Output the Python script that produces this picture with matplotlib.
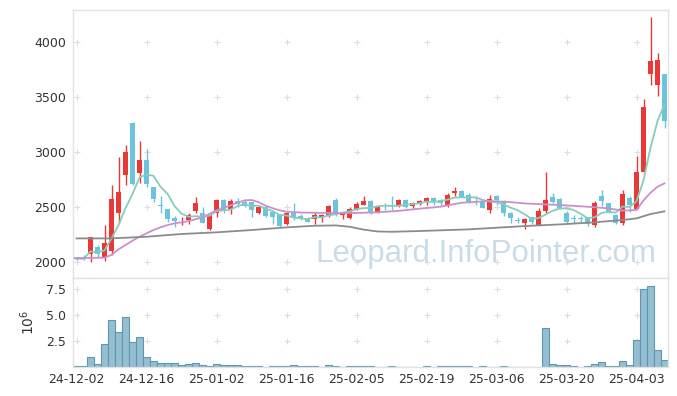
import numpy as np
import pandas as pd
import matplotlib
matplotlib.use("Agg")
from matplotlib import pyplot as plt

# Korean trading days shown on the chart
holidays = ["2024-12-25", "2024-12-31", "2025-01-01", "2025-01-27", "2025-01-28",
            "2025-01-29", "2025-01-30", "2025-03-03"]
dates = [d for d in pd.bdate_range("2024-12-02", "2025-04-09") if d.strftime("%Y-%m-%d") not in holidays]
date_labels = [d.strftime("%y-%m-%d") for d in dates]

opens = [2045, 2045, 2070, 2139, 2048, 2103, 2448, 2791, 3267, 2812,
         2927, 2679, 2515, 2482, 2400, 2358, 2382, 2464, 2442, 2300,
         2448, 2564, 2479, 2555, 2543, 2543, 2448, 2497, 2458, 2436,
         2342, 2448, 2418, 2403, 2391, 2403, 2421, 2564, 2424, 2403,
         2479, 2518, 2555, 2458, 2518, 2521, 2512, 2564, 2509, 2527,
         2555, 2585, 2564, 2518, 2630, 2648, 2609, 2548, 2555, 2473,
         2600, 2555, 2448, 2382, 2358, 2406, 2336, 2464, 2594, 2573,
         2448, 2400, 2398, 2397, 2336, 2600, 2533, 2427, 2352, 2579,
         2482, 2821, 3706, 3609, 3709]
highs = [2050, 2060, 2227, 2155, 2333, 2700, 2955, 3064, 3270, 3100,
         3027, 2680, 2600, 2485, 2418, 2406, 2448, 2588, 2503, 2430,
         2570, 2570, 2570, 2580, 2570, 2550, 2510, 2500, 2460, 2440,
         2455, 2533, 2440, 2410, 2455, 2440, 2520, 2580, 2455, 2500,
         2545, 2600, 2560, 2515, 2540, 2600, 2570, 2570, 2545, 2560,
         2590, 2590, 2570, 2630, 2679, 2655, 2630, 2600, 2560, 2609,
         2610, 2560, 2455, 2410, 2397, 2410, 2494, 2821, 2624, 2580,
         2460, 2430, 2420, 2405, 2555, 2655, 2540, 2440, 2655, 2600,
         2967, 3479, 4230, 3903, 3709]
lows = [2020, 2020, 2003, 2050, 2012, 2061, 2352, 2697, 2700, 2721,
        2685, 2548, 2448, 2367, 2315, 2336, 2342, 2442, 2355, 2295,
        2410, 2442, 2436, 2500, 2500, 2412, 2440, 2410, 2345, 2320,
        2335, 2382, 2380, 2360, 2345, 2360, 2410, 2420, 2390, 2395,
        2470, 2518, 2440, 2450, 2473, 2470, 2500, 2490, 2490, 2515,
        2515, 2515, 2510, 2500, 2600, 2590, 2540, 2520, 2490, 2448,
        2520, 2420, 2352, 2352, 2297, 2350, 2336, 2442, 2533, 2480,
        2350, 2355, 2360, 2327, 2315, 2509, 2450, 2345, 2336, 2458,
        2482, 2821, 3609, 3509, 3215]
closes = [2030, 2030, 2227, 2070, 2170, 2573, 2636, 3000, 2709, 2927,
          2709, 2570, 2506, 2391, 2370, 2364, 2427, 2533, 2358, 2427,
          2564, 2473, 2555, 2524, 2512, 2473, 2503, 2421, 2412, 2330,
          2448, 2412, 2391, 2367, 2427, 2427, 2509, 2442, 2442, 2482,
          2527, 2555, 2458, 2509, 2512, 2515, 2564, 2503, 2539, 2555,
          2585, 2549, 2539, 2609, 2648, 2594, 2548, 2542, 2494, 2573,
          2564, 2442, 2403, 2376, 2388, 2364, 2464, 2564, 2549, 2494,
          2367, 2395, 2393, 2345, 2533, 2557, 2458, 2352, 2618, 2518,
          2815, 3412, 3827, 3836, 3285]
# volume in millions of shares
volumes = [0.06, 0.06, 0.96, 0.29, 2.18, 4.49, 3.33, 4.78, 2.37, 2.85,
           0.96, 0.58, 0.35, 0.35, 0.35, 0.19, 0.29, 0.35, 0.16, 0.06,
           0.26, 0.19, 0.19, 0.19, 0.08, 0.06, 0.06, 0.0, 0.06, 0.06,
           0.06, 0.16, 0.06, 0.06, 0.06, 0.0, 0.16, 0.06, 0.0, 0.06,
           0.06, 0.06, 0.06, 0.0, 0.03, 0.06, 0.0, 0.0, 0.0, 0.0,
           0.06, 0.0, 0.06, 0.06, 0.06, 0.06, 0.06, 0.0, 0.06, 0.0,
           0.0, 0.06, 0.0, 0.0, 0.0, 0.0, 0.0, 3.72, 0.26, 0.16,
           0.16, 0.06, 0.0, 0.06, 0.26, 0.45, 0.06, 0.06, 0.55, 0.19,
           2.56, 7.55, 7.78, 1.60, 0.67]

# longer moving averages (index, value)
ma20_idx = [0, 4, 5, 6, 7, 8, 9, 10, 11, 12, 13, 14, 16, 18, 20, 21, 23, 24, 25, 26, 27,
            28, 29, 30, 32, 36, 40, 43, 46, 49, 52, 55, 59, 62, 64, 69, 73, 76, 78, 80,
            81, 82, 83, 84]
ma20_val = [2035, 2040, 2065, 2115, 2155, 2194, 2230, 2261, 2291, 2315, 2336, 2352, 2372,
            2406, 2470, 2490, 2540, 2560, 2564, 2545, 2512, 2490, 2470, 2458, 2450, 2446,
            2446, 2452, 2465, 2485, 2503, 2539, 2555, 2545, 2533, 2518, 2503, 2488, 2467,
            2473, 2560, 2630, 2685, 2715]
ma60_idx = [0, 5, 10, 15, 20, 25, 30, 34, 37, 39, 41, 43, 45, 49, 56, 60, 64, 69, 74, 78,
            80, 82, 84]
ma60_val = [2215, 2215, 2230, 2255, 2270, 2291, 2315, 2330, 2333, 2321, 2295, 2278, 2275,
            2282, 2297, 2312, 2327, 2342, 2361, 2382, 2397, 2436, 2461]

x = np.arange(len(closes))
o = np.array(opens); c = np.array(closes); h = np.array(highs); l = np.array(lows)
up = c >= o
colors = np.where(up, "#ec3737", "#6cc4dc")
ma5 = pd.Series(closes).rolling(5, min_periods=1).mean()

fig = plt.figure(figsize=(6.77, 3.96), dpi=100)
ax = fig.add_axes([73 / 677, 1 - 278 / 396, 595 / 677, 268 / 396])
ax2 = fig.add_axes([73 / 677, 1 - 367 / 396, 595 / 677, 89 / 396], sharex=ax)

tick_pos = list(range(0, len(x), 10))

# grid crosses
for a, yt in ((ax, [2000, 2500, 3000, 3500, 4000]), (ax2, [2.5, 5.0, 7.5])):
    gx, gy = np.meshgrid(tick_pos, yt)
    a.scatter(gx.ravel(), gy.ravel(), marker="+", s=18, color="#dddddd", lw=0.8, zorder=0)

ax.text(0.981, 0.06, "Leopard.InfoPointer.com", transform=ax.transAxes, ha="right",
        va="baseline", fontsize=22.5, family="Liberation Sans", color="#cadce7", zorder=0)

ax.vlines(x, l, h, colors=colors, lw=1.0, zorder=2)
body = np.maximum(np.abs(c - o), 6)
ax.bar(x, body, bottom=np.minimum(o, c), width=0.62, color=colors, lw=0, zorder=3)

ax.plot(x, ma5, color="#86cdbb", lw=1.3, zorder=4)
ax.plot(ma20_idx, ma20_val, color="#cc8fcc", lw=1.3, zorder=4)
ax.plot(ma60_idx, ma60_val, color="#8c8c8c", lw=1.3, zorder=4)

ax.set_ylim(1855, 4291)
ax.set_xlim(-0.5, len(x) - 0.5)
ax.set_yticks([2000, 2500, 3000, 3500, 4000])

ax2.bar(x, volumes, width=1.0, color="#95bfd1", edgecolor="#5d97b2", lw=0.8, zorder=2)
ax2.set_ylim(0, 8.56)
ax2.set_yticks([2.5, 5.0, 7.5])
ax2.set_yticklabels(["2.5", "5.0", "7.5"])
ax2.set_xticks(tick_pos)
ax2.set_xticklabels([date_labels[i] for i in tick_pos])
ax2.set_ylabel("$10^6$", fontsize=10, color="#333333")
ax2.yaxis.set_label_coords(-0.061, 0.5)

for a in (ax, ax2):
    for s in a.spines.values():
        s.set_color("#e2e2e2")
        s.set_linewidth(1.0)
    a.tick_params(length=0, labelsize=9, colors="#333333", pad=5)
ax.tick_params(labelbottom=False)
ax2.tick_params(axis="x", pad=4)

fig.savefig("out.png", dpi=100)
